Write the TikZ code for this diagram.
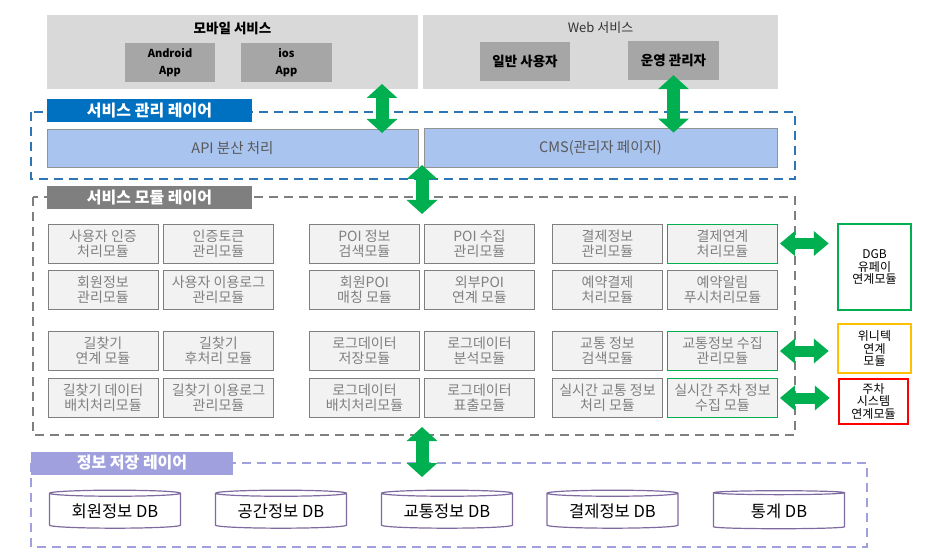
\documentclass[tikz,border=0pt]{standalone}
\usepackage{fontspec}
\setmainfont{Noto Sans CJK KR}
\usetikzlibrary{arrows.meta,shapes.geometric}

\definecolor{svcgray}{HTML}{D9D9D9}
\definecolor{appgray}{HTML}{A6A6A6}
\definecolor{mgmtblue}{HTML}{0070C0}
\definecolor{dashblue}{HTML}{2E75B6}
\definecolor{apiblue}{HTML}{A9C4EE}
\definecolor{modgray}{HTML}{7F7F7F}
\definecolor{modtext}{HTML}{808080}
\definecolor{modfill}{HTML}{F2F2F2}
\definecolor{linkgreen}{HTML}{00B050}
\definecolor{winiorange}{HTML}{FFC000}
\definecolor{parkred}{HTML}{FF0000}
\definecolor{storelav}{HTML}{A0A0DF}
\definecolor{dbpurple}{HTML}{7E6AA0}

\tikzset{
  svcarea/.style={fill=svcgray, inner sep=0pt},
  appbox/.style={fill=appgray, inner sep=0pt, align=center,
    font=\fontsize{11}{17}\selectfont\bfseries},
  layerframe/.style={draw=#1, line width=2pt, dash pattern=on 9pt off 6pt},
  layertab/.style={fill=#1, text=white, inner sep=0pt, minimum height=23,
    font=\fontsize{16}{16}\selectfont\bfseries},
  apibox/.style={fill=apiblue, draw=gray!85, line width=0.8pt, inner sep=0pt,
    minimum height=38, text=black!65, font=\fontsize{14.5}{15}\selectfont},
  modbox/.style={draw=modgray, fill=modfill, line width=0.8pt, inner sep=0pt,
    minimum width=110, minimum height=39, align=center, text=modtext,
    font=\fontsize{14}{15}\selectfont},
  linkmod/.style={modbox, draw=linkgreen},
  extbox/.style={draw=#1, line width=2.5pt, fill=white, inner sep=0pt,
    align=center, font=\fontsize{12}{12.5}\selectfont},
  dbstore/.style={cylinder, shape border rotate=90, aspect=0.07, draw=dbpurple,
    line width=1.2pt, fill=white, inner sep=0pt, minimum width=131,
    minimum height=38, font=\fontsize{16.5}{17}\selectfont},
  garrow/.style={linkgreen, line width=13pt,
    {Triangle[width=30pt,length=14pt]}-{Triangle[width=30pt,length=14pt]}},
  hlink/.style={linkgreen, line width=11pt,
    {Triangle[width=24pt,length=15pt]}-{Triangle[width=24pt,length=15pt]}}
}

\begin{document}
\begin{tikzpicture}[x=1pt,y=-1pt]
\useasboundingbox (0,0) rectangle (948,556);

% top: service areas
\node[svcarea, minimum width=371, minimum height=74] (mobile) at (232.5,52) {};
\node[font=\fontsize{13.5}{15}\selectfont\bfseries] (mobiletitle) at (232.5,28) {모바일 서비스};
\node[appbox, minimum width=90, minimum height=39] (android) at (170,62.5) {Android\\App};
\node[appbox, minimum width=91, minimum height=39] (ios) at (286.5,62.5) {ios\\App};

\node[svcarea, minimum width=355, minimum height=74] (web) at (600.5,52) {};
\node[font=\fontsize{13}{15}\selectfont, text=black!80] (webtitle) at (600.5,28) {Web 서비스};
\node[appbox, minimum width=90, minimum height=39, font=\fontsize{13.5}{15}\selectfont\bfseries] (user) at (525,61.5) {일반 사용자};
\node[appbox, minimum width=91, minimum height=39, font=\fontsize{13.5}{15}\selectfont\bfseries] (admin) at (673.5,60.5) {운영 관리자};

% service management layer
\draw[layerframe=dashblue] (31,112) rectangle (795,179);
\node[layertab=mgmtblue, minimum width=205] (mgmttab) at (149.5,110.5) {서비스 관리 레이어};
\node[apibox, minimum width=371] (api) at (232.5,148) {API 분산 처리};
\node[apibox, minimum width=353, minimum height=39] (cms) at (600.5,147.5) {CMS(관리자 페이지)};

% service module layer
\draw[layerframe=modgray, line width=2.5pt] (33,197) rectangle (795,435);
\node[layertab=modgray, minimum width=205] (modtab) at (149.5,197.5) {서비스 모듈 레이어};

\node[modbox] (m11) at (103,243.5) {사용자 인증\\처리모듈};
\node[modbox] (m12) at (218.5,243.5) {인증토큰\\관리모듈};
\node[modbox] (m13) at (364.5,243.5) {POI 정보\\검색모듈};
\node[modbox] (m14) at (479.5,243.5) {POI 수집\\관리모듈};
\node[modbox] (m15) at (607.5,243.5) {결제정보\\관리모듈};
\node[linkmod] (m16) at (722.5,243.5) {결제연계\\처리모듈};

\node[modbox] (m21) at (103,290) {회원정보\\관리모듈};
\node[modbox] (m22) at (218.5,290) {사용자 이용로그\\관리모듈};
\node[modbox] (m23) at (364.5,290) {회원POI\\매칭 모듈};
\node[modbox] (m24) at (479.5,290) {외부POI\\연계 모듈};
\node[modbox] (m25) at (607.5,290) {예약결제\\처리모듈};
\node[modbox] (m26) at (722.5,290) {예약알림\\푸시처리모듈};

\node[modbox] (m31) at (103,351) {길찾기\\연계 모듈};
\node[modbox] (m32) at (218.5,351) {길찾기\\후처리 모듈};
\node[modbox] (m33) at (364.5,351) {로그데이터\\저장모듈};
\node[modbox] (m34) at (479.5,351) {로그데이터\\분석모듈};
\node[modbox] (m35) at (607.5,351) {교통 정보\\검색모듈};
\node[linkmod] (m36) at (722.5,351) {교통정보 수집\\관리모듈};

\node[modbox] (m41) at (103,398) {길찾기 데이터\\배치처리모듈};
\node[modbox] (m42) at (218.5,398) {길찾기 이용로그\\관리모듈};
\node[modbox] (m43) at (364.5,398) {로그데이터\\배치처리모듈};
\node[modbox] (m44) at (479.5,398) {로그데이터\\표출모듈};
\node[modbox] (m45) at (607.5,398) {실시간 교통 정보\\처리 모듈};
\node[linkmod] (m46) at (722.5,398) {실시간 주차 정보\\수집 모듈};

% outside modules
\node[extbox=linkgreen, minimum width=73, minimum height=86] (dgb) at (874.5,267) {DGB\\유페이\\연계모듈};
\node[extbox=winiorange, minimum width=73, minimum height=49] (wini) at (874.5,348.5) {위니텍\\연계\\모듈};
\node[extbox=parkred, minimum width=69, minimum height=45] (park) at (873.5,401.5) {주차\\시스템\\연계모듈};

% information storage layer
\draw[layerframe=storelav] (31,463) rectangle (867,547);
\node[layertab=storelav, minimum width=202] (storetab) at (132,463) {정보 저장 레이어};
\node[dbstore] (db1) at (115,511) {회원정보 DB};
\node[dbstore] (db2) at (281,511) {공간정보 DB};
\node[dbstore] (db3) at (447,511) {교통정보 DB};
\node[dbstore] (db4) at (612.5,511) {결제정보 DB};
\node[dbstore] (db5) at (779,511) {통계 DB};

% links between layers
\coordinate (mob-out) at (382,84);
\coordinate (api-in) at (382,133);
\coordinate (mgmt-out) at (422,165);
\coordinate (mod-in) at (422,214);
\coordinate (mod-out) at (422,427);
\coordinate (store-in) at (422,477);
\draw[garrow] (mob-out) -- (api-in);
\draw[garrow, shorten <=-5pt, shorten >=-5pt] (admin.south) -- (admin.south |- cms.north);
\draw[garrow] (mgmt-out) -- (mod-in);
\draw[garrow] (mod-out) -- (store-in);

\draw[hlink, shorten <=2pt, shorten >=8pt] (m16.east) -- (m16.east -| dgb.west);
\draw[hlink, shorten <=2pt, shorten >=8pt] (m36.east) -- (m36.east -| wini.west);
\draw[hlink, shorten <=2pt, shorten >=8pt] (m46.east) -- (m46.east -| park.west);
\end{tikzpicture}
\end{document}
